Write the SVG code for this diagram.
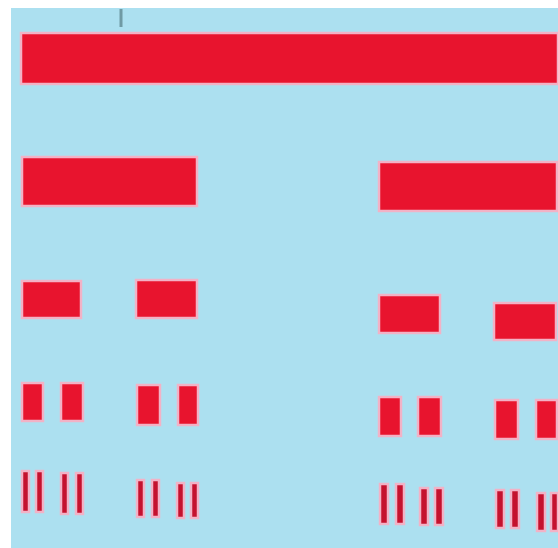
<svg xmlns="http://www.w3.org/2000/svg" width="558" height="548" viewBox="0 0 558 548">
<style>
.bg{fill:#ace0f0}
.bar{fill:#e8142e;stroke:#f2b2c6;stroke-width:2.5}
.thin{fill:#c4122e}
</style>
<rect width="558" height="548" fill="#ffffff"/>
<rect class="bg" x="11" y="8" width="547" height="540"/>
<line x1="121" y1="9" x2="121" y2="27" stroke="#6f9aa4" stroke-width="3"/>
<g id="level1">
<rect class="bar" x="21" y="33" width="537" height="51"/>
</g>
<g id="level2">
<rect class="bar" x="22" y="157" width="175" height="49"/>
<rect class="bar" x="379" y="162" width="178" height="49"/>
</g>
<g id="level3">
<rect class="bar" x="22" y="281" width="59" height="37"/>
<rect class="bar" x="136" y="280" width="61" height="38"/>
<rect class="bar" x="379" y="295" width="61" height="38"/>
<rect class="bar" x="494" y="303" width="62" height="37"/>
</g>
<g id="level4">
<rect class="bar" x="22" y="383" width="21" height="38"/>
<rect class="bar" x="61" y="383" width="22" height="38"/>
<rect class="bar" x="137" y="385" width="23" height="40"/>
<rect class="bar" x="178" y="385" width="20" height="40"/>
<rect class="bar" x="379" y="397" width="22" height="39"/>
<rect class="bar" x="418" y="397" width="23" height="39"/>
<rect class="bar" x="495" y="400" width="23" height="39"/>
<rect class="bar" x="536" y="400" width="21" height="39"/>
</g>
<g id="level5">
<rect class="bar thin" x="22" y="471" width="7" height="41"/>
<rect class="bar thin" x="36" y="471" width="7" height="41"/>
<rect class="bar thin" x="61" y="473" width="7" height="41"/>
<rect class="bar thin" x="76" y="473" width="7" height="41"/>
<rect class="bar thin" x="137" y="480" width="7" height="37"/>
<rect class="bar thin" x="152" y="480" width="7" height="37"/>
<rect class="bar thin" x="177" y="483" width="7" height="35"/>
<rect class="bar thin" x="191" y="483" width="7" height="35"/>
<rect class="bar thin" x="380" y="484" width="8" height="40"/>
<rect class="bar thin" x="396" y="484" width="8" height="40"/>
<rect class="bar thin" x="420" y="488" width="8" height="37"/>
<rect class="bar thin" x="435" y="488" width="8" height="37"/>
<rect class="bar thin" x="496" y="490" width="8" height="38"/>
<rect class="bar thin" x="511" y="490" width="8" height="38"/>
<rect class="bar thin" x="537" y="493" width="8" height="38"/>
<rect class="bar thin" x="551" y="493" width="7" height="38"/>
</g>
</svg>
